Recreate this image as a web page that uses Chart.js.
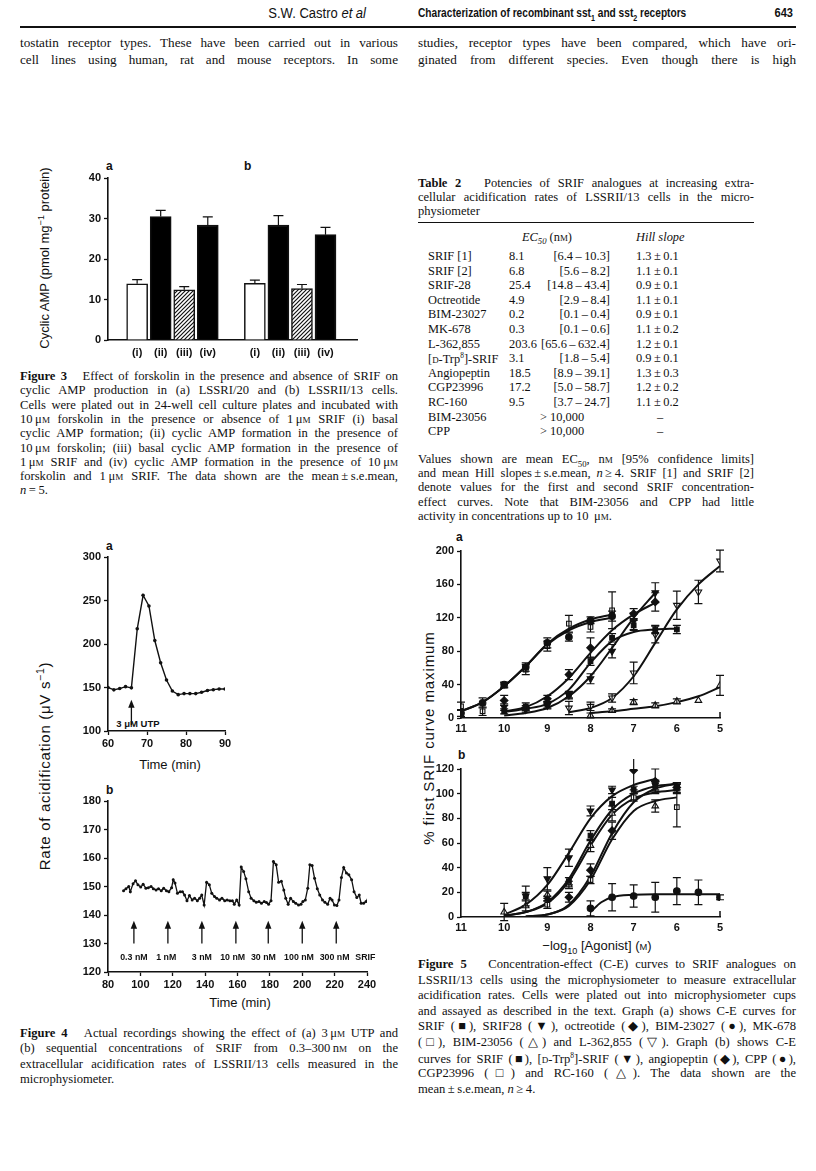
<!DOCTYPE html>
<html><head><meta charset="utf-8">
<script src="https://cdn.jsdelivr.net/npm/chart.js@4.4.1/dist/chart.umd.min.js"></script>
<style>
html,body{margin:0;padding:0;background:#fff;}
body{width:816px;height:1171px;position:relative;overflow:hidden;font-family:"Liberation Serif","Times New Roman",serif;color:#111;}
.t{position:absolute;white-space:nowrap;line-height:1;}
.j{position:absolute;text-align:justify;text-align-last:justify;white-space:nowrap;line-height:1;}
.sc{font-size:0.72em;}
.hd{font-family:"Liberation Sans",Arial,sans-serif;font-size:13px;}
.lab{font-family:"Liberation Sans",Arial,sans-serif;font-weight:bold;font-size:12px;}
.ax{font-family:"Liberation Sans",Arial,sans-serif;font-size:12px;}
.rot{position:absolute;transform:translate(-50%,-50%) rotate(-90deg);white-space:nowrap;font-family:"Liberation Sans",Arial,sans-serif;font-size:12px;}
.cv{position:absolute;}
</style></head>
<body>
<div id="txt"></div>
<div class="cv" id="c3w"><canvas id="c3"></canvas></div>
<div class="cv" id="c4aw"><canvas id="c4a"></canvas></div>
<div class="cv" id="c4bw"><canvas id="c4b"></canvas></div>
<div class="cv" id="c5aw"><canvas id="c5a"></canvas></div>
<div class="cv" id="c5bw"><canvas id="c5b"></canvas></div>
<script>
// ---------------- DATA ----------------
// Figure 3
const fig3Labels = ['(i)','(ii)','(iii)','(iv)','','(i)','(ii)','(iii)','(iv)'];
const fig3Values = [13.9, 30.5, 12.4, 28.4, null, 14.0, 28.4, 12.7, 26.0];
const fig3Errors = [1.0, 1.5, 0.8, 2.0, null, 0.8, 2.3, 1.0, 1.8];
const fig3Fill = ['white','black','hatch','black',null,'white','black','hatch','black'];
const fig3YTicks = [0,10,20,30,40];

// Figure 4a (time min, rate uV/s)
const fig4aTime = [60,61.5,63,64.5,66,67.5,69,70.5,72,73.5,75,76.5,78,79.5,81,82.5,84,85.5,87,88.5,90];
const fig4aRate = [150,147.3,148.8,151,149.6,217.5,256,243.7,204,178.5,158.6,146,141.8,143,143,143,144.5,146.5,147.5,148.3,148.3];
const fig4aArrowTime = [66];
const fig4aArrowLabel = ['3 μM UTP'];

// Figure 4b
const fig4bTime = [89.6,91.1,92.8,93.8,95.5,97.0,98.5,100.2,101.7,103.4,104.9,106.6,108.0,109.7,111.2,112.9,114.4,116.1,117.6,119.3,120.3,121.4,122.9,124.6,126.0,127.3,128.8,130.3,132.0,133.5,135.2,136.6,137.9,139.4,140.9,142.6,144.1,145.8,147.2,148.9,150.4,152.1,153.6,155.3,156.8,158.0,159.5,161.0,162.3,163.8,165.2,166.9,168.4,170.1,171.6,173.3,174.8,176.5,177.9,179.2,180.7,182.2,183.9,185.4,187.1,188.6,189.8,191.3,192.8,194.5,196.0,197.7,199.2,200.4,201.9,203.4,204.7,206.1,207.6,209.3,210.8,212.5,214.0,215.7,217.2,218.4,219.9,221.4,222.7,224.2,225.6,227.3,228.8,230.5,232.0,233.7,235.2,236.4,237.9,239.4,240.5];
const fig4bRate = [148.5,149.2,150,148.2,151,152,150.6,149.8,150.8,149.4,149.6,150,149.2,148.8,149.2,148.5,149.4,148.5,148.2,149.6,152.4,151.2,147.6,148.2,148.2,147,145,146.8,145.3,145.9,145,145.9,147,143.5,151.5,150.6,147.6,146.5,145.9,145.3,145.9,145,145.3,145,145,143.8,145.3,143.5,156.8,155.3,152.7,148.2,145.9,145,144.5,144.7,144.1,144.7,144.4,143.8,145,158.8,157.6,151.5,151.8,148.8,145.9,143.8,145.9,144.7,144.1,143.5,143.8,144.7,145.3,149.4,157.6,157.4,152.9,149.2,147,145.3,144.5,143.8,145.9,145.3,143.5,143.3,145.3,153.2,156.7,154.7,154.1,152.4,148.2,146.1,147,144.1,144.1,144.7,145.3];
const fig4bArrowTime = [96,117,138,159,179,200,221];
const fig4bDoseLabel = ['0.3 nM','1 nM','3 nM','10 nM','30 nM','100 nM','300 nM','SRIF'];
const fig4bDoseLabelTime = [96,116,138,157,176,198,220,239];

// Figure 5a  (x = -log10[agonist])
const f5a_SRIF_x = [10,9.5,9,8.5,8,7.5,7,6.5,6];
const f5a_SRIF_y = [8,14,16,28,68,96,111,106,106];
const f5a_SRIF_e = [3,4,4,4,5,5,6,5,5];
const f5a_SRIF_cx = [10,9.5,9,8.5,8,7.5,7,6.5,6];
const f5a_SRIF_cy = [7,11,17,34,66,92,103,106,107];

const f5a_S28_x = [10,9.5,9,8.5,8,7.5,7,6.5];
const f5a_S28_y = [13,10,15,27,47,80,116,150];
const f5a_S28_e = [4,3,4,4,6,8,10,12];
const f5a_S28_cx = [10,9.5,9,8.5,8,7.5,7,6.5];
const f5a_S28_cy = [3,6,12,26,50,84,120,150];

const f5a_OCT_x = [10,9.5,9,8.5,8,7,6.5];
const f5a_OCT_y = [21,12,23,52,84,125,139];
const f5a_OCT_e = [6,3,4,6,12,6,11];
const f5a_OCT_cx = [10,9.5,9,8.5,8,7.5,7,6.5];
const f5a_OCT_cy = [8,13,26,48,78,105,124,138];

const f5a_BIM27_x = [11,10.5,10,9.5,9,8.5,8,7.5];
const f5a_BIM27_y = [6,18,40,61,90,97,117,122];
const f5a_BIM27_e = [4,6,3,5,6,5,4,6];
const f5a_BIM27_cx = [11,10.5,10,9.5,9,8.5,8,7.5];
const f5a_BIM27_cy = [8,19,38,62,88,105,115,120];

const f5a_MK_x = [11,10.5,10,9.5,9,8.5,8,7.5];
const f5a_MK_y = [14,8,39,58,86,113,109,129];
const f5a_MK_e = [5,5,3,6,6,10,6,22];
const f5a_MK_cx = [11,10.5,10,9.5,9,8.5,8,7.5];
const f5a_MK_cy = [8,19,38,62,89,107,118,124];

const f5a_BIM56_x = [8,7.5,7,6.5,6,5.5,5];
const f5a_BIM56_y = [3,9,19,15,20,21,39];
const f5a_BIM56_e = [3,2,3,3,3,0,12];
const f5a_BIM56_cx = [8,7.5,7,6.5,6,5.5,5];
const f5a_BIM56_cy = [6,8,11,14,19,26,37];

const f5a_L36_x = [8.5,8,7.5,7,6.5,6,5.5,5];
const f5a_L36_y = [12,14,24,54,100,135,151,188];
const f5a_L36_e = [8,5,5,13,10,17,14,13];
const f5a_L36_cx = [8.5,8,7.5,7,6.5,6,5.5,5];
const f5a_L36_cy = [7,12,24,50,90,130,160,182];

// Figure 5b
const f5b_SRIF_x = [9.5,9,8.5,8,7.5,7,6.5,6];
const f5b_SRIF_y = [17,15,29,66,92,103,106,104];
const f5b_SRIF_e = [3,2,3,4,5,3,4,4];
const f5b_SRIF_cx = [10,9.5,9,8.5,8,7.5,7,6.5,6];
const f5b_SRIF_cy = [1,4,12,31,62,87,100,106,108];

const f5b_DT_x = [9.5,9,8.5,8,7.5,6.5,6];
const f5b_DT_y = [17,31,48,86,103,107,106];
const f5b_DT_e = [8,9,7,4,3,4,3];
const f5b_DT_cx = [10,9.5,9,8.5,8,7.5,7,6.5];
const f5b_DT_cy = [2,10,26,52,80,98,107,112];

const f5b_ANG_x = [8.5,8,7.5,7,6.5,6];
const f5b_ANG_y = [16,38,70,119,110,105];
const f5b_ANG_e = [4,5,7,16,10,4];
const f5b_ANG_cx = [9.5,9,8.5,8,7.5,7,6.5,6];
const f5b_ANG_cy = [0.5,2,10,33,68,93,104,108];

const f5b_CPP_x = [8,7.5,7,6.5,6,5.5,5];
const f5b_CPP_y = [7,16,17,16,21,20,16];
const f5b_CPP_e = [6,11,9,12,11,10,2];
const f5b_CPP_cx = [8,7.75,7.5,7,6.5,6,5.5,5];
const f5b_CPP_cy = [4,12,16,18,18.5,18.5,18.5,18.5];

const f5b_CGP_x = [9,8,7,6];
const f5b_CGP_y = [10,30,97,89];
const f5b_CGP_e = [3,3,3,16];
const f5b_CGP_cx = [9.5,9,8.5,8,7.5,7,6.5,6];
const f5b_CGP_cy = [0.5,2,9,30,63,86,94,97];

const f5b_RC_x = [10,9.5,9,8.5,8,7.5,6.5];
const f5b_RC_y = [4,9,18,26,58,84,90];
const f5b_RC_e = [7,4,3,3,5,6,5];
const f5b_RC_cx = [10,9.5,9,8.5,8,7.5,7,6.5,6];
const f5b_RC_cy = [1,4,11,29,58,83,96,101,103];

// Table 2
const tblNames = ['SRIF [1]','SRIF [2]','SRIF-28','Octreotide','BIM-23027','MK-678','L-362,855','[<span class="sc">D</span>-Trp<sup style="font-size:0.6em">8</sup>]-SRIF','Angiopeptin','CGP23996','RC-160','BIM-23056','CPP'];
const tblEC50 = ['8.1','6.8','25.4','4.9','0.2','0.3','203.6','3.1','18.5','17.2','9.5','',''];
const tblCI = ['[6.4 – 10.3]','[5.6 – 8.2]','[14.8 – 43.4]','[2.9 – 8.4]','[0.1 – 0.4]','[0.1 – 0.6]','[65.6 – 632.4]','[1.8 – 5.4]','[8.9 – 39.1]','[5.0 – 58.7]','[3.7 – 24.7]','> 10,000','> 10,000'];
const tblHill = ['1.3 ± 0.1','1.1 ± 0.1','0.9 ± 0.1','1.1 ± 0.1','0.9 ± 0.1','1.1 ± 0.2','1.2 ± 0.1','0.9 ± 0.1','1.3 ± 0.3','1.2 ± 0.2','1.1 ± 0.2','–','–'];

// ---------------- TEXT ----------------
const T = document.getElementById('txt');
function put(html, x, y, cls, w, extra){
  const d=document.createElement('div');
  d.className = cls || 't';
  d.style.left = x+'px'; d.style.top = y+'px';
  if (w) d.style.width = w+'px';
  if (extra) d.style.cssText += extra;
  d.innerHTML = html; T.appendChild(d); return d;
}
// header
put('S.W. Castro <i>et al</i>', 366, 6, 't hd', null, 'font-size:14px;transform:translateX(-100%) scaleX(0.93);transform-origin:100% 50%;');
put('<b>Characterization of recombinant sst<sub style="font-size:0.7em">1</sub> and sst<sub style="font-size:0.7em">2</sub> receptors</b>', 418, 6, 't hd', null, 'transform:scaleX(0.78);transform-origin:0 50%;');
put('<b>643</b>', 793, 6, 't hd', null, 'transform:translateX(-100%) scaleX(0.85);transform-origin:100% 50%;');
const rule = document.createElement('div');
rule.style.cssText='position:absolute;left:20px;top:26px;width:776px;height:1.5px;background:#111;';
T.appendChild(rule);
// body text
const bodyL = ['tostatin receptor types. These have been carried out in various','cell lines using human, rat and mouse receptors. In some'];
const bodyR = ['studies, receptor types have been compared, which have ori-','ginated from different species. Even though there is high'];
bodyL.forEach((s,i)=>put(s,20,36+i*17,'j',378,'font-size:13.2px;'));
bodyR.forEach((s,i)=>put(s,418,36+i*17,'j',378,'font-size:13.2px;'));

// captions
function para(lines, x, y0, dy, w, fs){
  lines.forEach((s,i)=>{
    const last = i===lines.length-1;
    put(s, x, y0+i*dy, last?'t':'j', last?null:w, 'font-size:'+fs+'px;');
  });
}
const mu = 'μ<span class="sc">M</span>', nm='n<span class="sc">M</span>';
para(['<b>Figure 3</b>&nbsp;&nbsp; Effect of forskolin in the presence and absence of SRIF on',
 'cyclic AMP production in (a) LSSRI/20 and (b) LSSRII/13 cells.',
 'Cells were plated out in 24-well cell culture plates and incubated with',
 '10&thinsp;'+mu+' forskolin in the presence or absence of 1&thinsp;'+mu+' SRIF (i) basal',
 'cyclic AMP formation; (ii) cyclic AMP formation in the presence of',
 '10&thinsp;'+mu+' forskolin; (iii) basal cyclic AMP formation in the presence of',
 '1&thinsp;'+mu+' SRIF and (iv) cyclic AMP formation in the presence of 10&thinsp;'+mu,
 'forskolin and 1&thinsp;'+mu+' SRIF. The data shown are the mean&thinsp;±&thinsp;s.e.mean,',
 '<i>n</i>&thinsp;=&thinsp;5.'], 20, 370, 14.3, 378, 12.6);

para(['<b>Figure 4</b>&nbsp;&nbsp; Actual recordings showing the effect of (a) 3&thinsp;'+mu+' UTP and',
 '(b) sequential concentrations of SRIF from 0.3–300&thinsp;'+nm+' on the',
 'extracellular acidification rates of LSSRII/13 cells measured in the',
 'microphysiometer.'], 20, 1027, 15.3, 378, 12.6);

para(['<b>Figure 5</b>&nbsp;&nbsp; Concentration-effect (C-E) curves to SRIF analogues on',
 'LSSRII/13 cells using the microphysiometer to measure extracellular',
 'acidification rates. Cells were plated out into microphysiometer cups',
 'and assayed as described in the text. Graph (a) shows C-E curves for',
 'SRIF (■), SRIF28 (▼), octreotide (◆), BIM-23027 (●), MK-678',
 '(□), BIM-23056 (△) and L-362,855 (▽). Graph (b) shows C-E',
 'curves for SRIF (■), [<span class="sc">D</span>-Trp<sup style="font-size:0.6em">8</sup>]-SRIF (▼), angiopeptin (◆), CPP (●),',
 'CGP23996 (□) and RC-160 (△). The data shown are the',
 'mean&thinsp;±&thinsp;s.e.mean, <i>n</i>&thinsp;≥&thinsp;4.'], 418, 958, 15.6, 378, 12.6);

// table
const TF = 'font-size:12.4px;';
para(['<b>Table 2</b>&nbsp;&nbsp; Potencies of SRIF analogues at increasing extra-',
 'cellular acidification rates of LSSRII/13 cells in the micro-',
 'physiometer'], 418, 177, 14, 336, 12.5);
const r2 = document.createElement('div');
r2.style.cssText='position:absolute;left:418px;top:222px;width:336px;height:1.4px;background:#111;';
T.appendChild(r2);
put('<i>EC</i><sub style="font-size:0.7em"><i>50</i></sub> (n<span class="sc">M</span>)', 522, 231, 't', null, TF);
put('<i>Hill slope</i>', 636, 231, 't', null, TF);
tblNames.forEach((n,i)=>{
  const y = 250 + i*14.6;
  put(n, 428, y, 't', null, TF);
  if (tblEC50[i]) {
    put(tblEC50[i], 509, y, 't', null, TF);
    put(tblCI[i].replace(/ – /,'&thinsp;–&thinsp;'), 610, y, 't', null, TF+'transform:translateX(-100%);');
  } else {
    put(tblCI[i], 540, y, 't', null, TF);
  }
  if (tblHill[i]==='–') put('–', 657, y, 't', null, TF);
  else put(tblHill[i].replace(/ ± /,'&thinsp;±&thinsp;'), 636, y, 't', null, TF);
});
para(['Values shown are mean EC<sub style="font-size:0.7em">50</sub>, '+nm+' [95% confidence limits]',
 'and mean Hill slopes&thinsp;±&thinsp;s.e.mean, <i>n</i>&thinsp;≥&thinsp;4. SRIF [1] and SRIF [2]',
 'denote values for the first and second SRIF concentration-',
 'effect curves. Note that BIM-23056 and CPP had little',
 'activity in concentrations up to 10 &thinsp;'+mu+'.'], 418, 453, 14.2, 336, 12.5);

// panel letters & axis titles
put('a', 106, 160, 't lab'); put('b', 244, 160, 't lab');
put('a', 106, 540, 't lab'); put('b', 106, 784, 't lab');
put('a', 456, 531, 't lab'); put('b', 458, 749, 't lab');
put('Cyclic AMP (pmol mg<sup style="font-size:0.7em">−1</sup> protein)', 44, 258, 'rot', null, 'font-size:13px;');
put('Rate of acidification (μV s<sup style="font-size:0.7em">−1</sup>)', 43, 766, 'rot', null, 'font-size:15px;letter-spacing:0.7px;');
put('% first SRIF curve maximum', 428, 738, 'rot', null, 'font-size:15px;letter-spacing:0.9px;');
put('Time (min)', 170, 758, 't ax', null, 'transform:translateX(-50%);font-size:13px;');
put('Time (min)', 240, 996, 't ax', null, 'transform:translateX(-50%);font-size:13px;');
put('−log<sub style="font-size:0.7em">10</sub> [Agonist] (<span class="sc">M</span>)', 597, 939, 't ax', null, 'transform:translateX(-50%);font-size:13px;');

// ---------------- CHART HELPERS ----------------
const TICKFONT = {family:'"Liberation Sans", Arial, sans-serif', size:11, weight:'bold'};
function place(id, area, yw, xh, pt, pr){
  const w = document.getElementById(id+'w');
  const W = area.x1 - area.x0 + yw + pr, H = area.y1 - area.y0 + pt + xh;
  w.style.left = (area.x0 - yw)+'px'; w.style.top = (area.y0 - pt)+'px';
  w.style.width = W+'px'; w.style.height = H+'px';
  return {padding:{left:0,right:pr,top:pt,bottom:0}};
}
function axisCommon(extra){
  return Object.assign({
    grid:{display:true, drawOnChartArea:false, drawTicks:true, tickLength:4, tickColor:'#111', tickWidth:1.3},
    border:{display:true, color:'#111', width:1.6},
    ticks:{color:'#111', font:TICKFONT, padding:2, includeBounds:false}
  }, extra);
}
const errPlugin = {
  id:'err',
  afterDatasetsDraw(chart){
    const ctx = chart.ctx;
    chart.data.datasets.forEach((ds,di)=>{
      if (!ds.errs || !chart.isDatasetVisible(di)) return;
      const meta = chart.getDatasetMeta(di);
      const ys = chart.scales[meta.yAxisID];
      ctx.save(); ctx.strokeStyle='#111'; ctx.lineWidth=1.2;
      meta.data.forEach((el,i)=>{
        const e = ds.errs[i]; if (e==null || !e) return;
        const raw = ds.data[i]; const v = (typeof raw==='object'&&raw!==null)?raw.y:raw;
        if (v==null) return;
        const x = el.x, yTop = ys.getPixelForValue(v+e), y0 = ys.getPixelForValue(ds.upOnly? v : v-e);
        const cap = ds.capW || 4;
        ctx.beginPath(); ctx.moveTo(x,y0); ctx.lineTo(x,yTop);
        ctx.moveTo(x-cap,yTop); ctx.lineTo(x+cap,yTop);
        if (!ds.upOnly){ ctx.moveTo(x-cap,y0); ctx.lineTo(x+cap,y0); }
        ctx.stroke();
      });
      ctx.restore();
    });
  }
};
Chart.register(errPlugin);
Chart.defaults.animation = false;
Chart.defaults.responsive = true;
Chart.defaults.maintainAspectRatio = false;
Chart.defaults.plugins.legend.display = false;
Chart.defaults.plugins.tooltip.enabled = false;

// ---------------- FIGURE 3 ----------------
(function(){
  const pc = document.createElement('canvas'); pc.width=4; pc.height=4;
  const p = pc.getContext('2d'); p.fillStyle='#fff'; p.fillRect(0,0,4,4);
  p.strokeStyle='#111'; p.lineWidth=1.2;
  p.beginPath(); p.moveTo(0,4); p.lineTo(4,0); p.moveTo(-2,2); p.lineTo(2,-2); p.moveTo(2,6); p.lineTo(6,2); p.stroke();
  const ctx = document.getElementById('c3').getContext('2d');
  const hatch = ctx.createPattern(pc,'repeat');
  const fills = fig3Fill.map(f=> f==='hatch'?hatch:(f||'white'));
  const layout = place('c3', {x0:108,x1:357,y0:178,y1:340}, 40, 24, 10, 10);
  new Chart(ctx, {
    type:'bar',
    data:{datasets:[{
      data: fig3Values.map((v,i)=>({x:i,y:v})),
      backgroundColor: fills, borderColor:'#111', borderWidth:1.5,
      barThickness:21, errs: fig3Errors, upOnly:true, capW:5
    }]},
    options:{
      layout,
      scales:{
        x: axisCommon({type:'linear', min:-0.65, max:8.75,
          afterFit(s){s.height=24;},
          grid:{display:false, drawTicks:false},
          ticks:{color:'#111', font:TICKFONT, stepSize:1, includeBounds:false, autoSkip:false, padding:6,
                 callback:(v)=> Number.isInteger(v)? (fig3Labels[v]||'') : ''}}),
        y: axisCommon({min:0, max:40, afterFit(s){s.width=40;},
          afterBuildTicks(s){ s.ticks = fig3YTicks.map(v=>({value:v})); },
          ticks:{color:'#111', font:TICKFONT, padding:3}})
      }
    }
  });
})();

// ---------------- FIGURE 4 ----------------
function arrowPlugin(times, yFrom, yTo, labels, labTimes, labY){
  return {id:'arrows', afterDatasetsDraw(chart){
    const ctx=chart.ctx, xs=chart.scales.x, ys=chart.scales.y;
    ctx.save(); ctx.strokeStyle='#111'; ctx.fillStyle='#111'; ctx.lineWidth=1.3;
    times.forEach(t=>{
      const x=xs.getPixelForValue(t), y1=ys.getPixelForValue(yFrom), y2=ys.getPixelForValue(yTo);
      ctx.beginPath(); ctx.moveTo(x,y1); ctx.lineTo(x,y2+6); ctx.stroke();
      ctx.beginPath(); ctx.moveTo(x,y2); ctx.lineTo(x-3.2,y2+8); ctx.lineTo(x+3.2,y2+8); ctx.closePath(); ctx.fill();
    });
    if (labels){
      ctx.font='bold 8.8px "Liberation Sans", Arial, sans-serif'; ctx.textAlign='center'; ctx.textBaseline='middle';
      labels.forEach((l,i)=>{ ctx.fillText(l, xs.getPixelForValue(labTimes[i]), ys.getPixelForValue(labY)); });
    }
    ctx.restore();
  }};
}
(function(){
  const layout = place('c4a', {x0:108,x1:225,y0:557,y1:731}, 40, 22, 10, 14);
  new Chart(document.getElementById('c4a'), {
    type:'scatter',
    data:{datasets:[{data: fig4aTime.map((t,i)=>({x:t,y:fig4aRate[i]})), showLine:true,
      borderColor:'#111', borderWidth:1.4, pointRadius:1.8, pointBackgroundColor:'#111', pointBorderWidth:0}]},
    options:{layout,
      scales:{
        x: axisCommon({type:'linear', min:60, max:90, afterFit(s){s.height=22;},
          ticks:{color:'#111', font:TICKFONT, stepSize:10, padding:2}}),
        y: axisCommon({min:100, max:300, afterFit(s){s.width=40;},
          ticks:{color:'#111', font:TICKFONT, stepSize:50, padding:3}})
      }},
    plugins:[arrowPlugin(fig4aArrowTime, 107, 136, null)]
  });
  const area = {x0:108,x1:225,y0:557,y1:731};
  const tx = area.x0 + (fig4aArrowTime[0]-60)/(90-60)*(area.x1-area.x0);
  put(fig4aArrowLabel[0], tx, 719, 't lab', null, 'font-size:9.5px;transform:translateX(-35%);');
})();
(function(){
  const layout = place('c4b', {x0:108,x1:367,y0:801,y1:972}, 40, 22, 10, 14);
  new Chart(document.getElementById('c4b'), {
    type:'scatter',
    data:{datasets:[{data: fig4bTime.map((t,i)=>({x:t,y:fig4bRate[i]})), showLine:true,
      borderColor:'#111', borderWidth:1.3, pointRadius:1.5, pointBackgroundColor:'#111', pointBorderWidth:0}]},
    options:{layout,
      scales:{
        x: axisCommon({type:'linear', min:80, max:240, afterFit(s){s.height=22;},
          ticks:{color:'#111', font:TICKFONT, stepSize:20, padding:2}}),
        y: axisCommon({min:120, max:180, afterFit(s){s.width=40;},
          ticks:{color:'#111', font:TICKFONT, stepSize:10, padding:3}})
      }},
    plugins:[arrowPlugin(fig4bArrowTime, 130, 138, fig4bDoseLabel, fig4bDoseLabelTime, 125)]
  });
})();

// ---------------- FIGURE 5 ----------------
function marker(style, filled){
  return {pointStyle:style, pointBackgroundColor: filled?'#111':'#fff', pointBorderColor:'#111', pointBorderWidth:1.1};
}
function series(xs, ys, es, cxs, cys, style, filled, rot, rad){
  const pts = Object.assign({type:'scatter', data: xs.map((x,i)=>({x, y:ys[i]})), errs: es,
     pointRadius: rad||3.8, pointRotation: rot||0, showLine:false, order:1}, marker(style, filled));
  const curve = {type:'line', data: cxs.map((x,i)=>({x, y:cys[i]})), borderColor:'#111', borderWidth:2,
     pointRadius:0, cubicInterpolationMode:'monotone', fill:false, order:2};
  return [curve, pts];
}
const endTick = {id:'endTick', afterDraw(chart){
  const ctx=chart.ctx, a=chart.chartArea;
  ctx.save(); ctx.strokeStyle='#111'; ctx.lineWidth=1.5;
  ctx.beginPath(); ctx.moveTo(a.right, a.bottom); ctx.lineTo(a.right, a.bottom-6); ctx.stroke(); ctx.restore();
}};
function fig5(id, area, ymax, ystep, sets){
  const layout = place(id, area, 30, 20, 10, 14);
  new Chart(document.getElementById(id), {
    type:'scatter',
    data:{datasets: sets.flat()},
    options:{layout,
      scales:{
        x: axisCommon({type:'linear', min:5, max:11, reverse:true, afterFit(s){s.height=20;},
          grid:{display:true, drawOnChartArea:false, drawTicks:false},
          ticks:{color:'#111', font:TICKFONT, stepSize:1, padding:4}}),
        y: axisCommon({min:0, max:ymax, afterFit(s){s.width=30;},
          ticks:{color:'#111', font:TICKFONT, stepSize:ystep, padding:3}})
      }},
    plugins:[endTick]
  });
}
fig5('c5a', {x0:461,x1:720,y0:551,y1:718}, 200, 40, [
  series(f5a_BIM56_x,f5a_BIM56_y,f5a_BIM56_e,f5a_BIM56_cx,f5a_BIM56_cy,'triangle',false),
  series(f5a_L36_x,f5a_L36_y,f5a_L36_e,f5a_L36_cx,f5a_L36_cy,'triangle',false,180),
  series(f5a_SRIF_x,f5a_SRIF_y,f5a_SRIF_e,f5a_SRIF_cx,f5a_SRIF_cy,'rect',true,0,3.3),
  series(f5a_S28_x,f5a_S28_y,f5a_S28_e,f5a_S28_cx,f5a_S28_cy,'triangle',true,180),
  series(f5a_OCT_x,f5a_OCT_y,f5a_OCT_e,f5a_OCT_cx,f5a_OCT_cy,'rectRot',true),
  series(f5a_BIM27_x,f5a_BIM27_y,f5a_BIM27_e,f5a_BIM27_cx,f5a_BIM27_cy,'circle',true,0,3.3),
  series(f5a_MK_x,f5a_MK_y,f5a_MK_e,f5a_MK_cx,f5a_MK_cy,'rect',false,0,3.3)
]);
fig5('c5b', {x0:461,x1:720,y0:769,y1:917}, 120, 20, [
  series(f5b_CPP_x,f5b_CPP_y,f5b_CPP_e,f5b_CPP_cx,f5b_CPP_cy,'circle',true,0,3.3),
  series(f5b_CGP_x,f5b_CGP_y,f5b_CGP_e,f5b_CGP_cx,f5b_CGP_cy,'rect',false,0,3.3),
  series(f5b_RC_x,f5b_RC_y,f5b_RC_e,f5b_RC_cx,f5b_RC_cy,'triangle',false),
  series(f5b_ANG_x,f5b_ANG_y,f5b_ANG_e,f5b_ANG_cx,f5b_ANG_cy,'rectRot',true),
  series(f5b_SRIF_x,f5b_SRIF_y,f5b_SRIF_e,f5b_SRIF_cx,f5b_SRIF_cy,'rect',true,0,3.3),
  series(f5b_DT_x,f5b_DT_y,f5b_DT_e,f5b_DT_cx,f5b_DT_cy,'triangle',true,180)
]);
</script>
</body></html>
